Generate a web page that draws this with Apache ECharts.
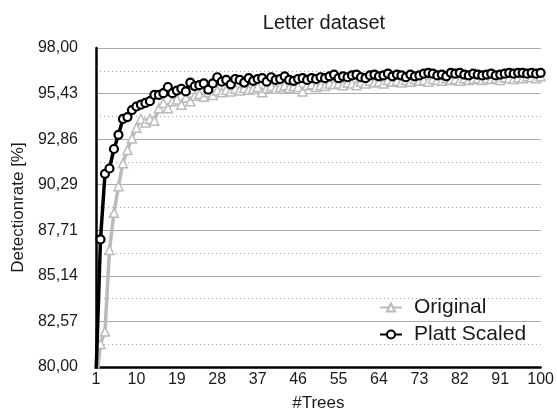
<!DOCTYPE html>
<html>
<head>
<meta charset="utf-8">
<script src="https://cdn.jsdelivr.net/npm/echarts@6/dist/echarts.min.js"></script>
<style>html,body{margin:0;padding:0;background:#fff}#c{width:557px;height:418px}</style>
</head>
<body>
<div id="c"></div>
<script>
var trees = [];
for (var i = 1; i <= 100; i++) trees.push(String(i));

var original = [
79.0, 81.3, 82.0, 86.6, 88.7, 90.2, 91.5, 92.25, 92.9, 93.5,
94.0, 93.8, 94.0, 93.9, 94.6, 94.9, 94.6, 95.0, 95.1, 94.8,
95.2, 95.0, 95.3, 95.4, 95.25, 95.5, 95.35, 95.6, 95.5, 95.65,
95.55, 95.7, 95.6, 95.75, 95.65, 95.7, 95.8, 95.5, 95.75, 95.85,
95.7, 95.8, 95.9, 95.75, 95.85, 95.8, 95.55, 95.9, 95.95, 95.8,
95.9, 95.85, 96.0, 95.95, 96.0, 95.9, 96.05, 96.0, 95.9, 96.1,
96.0, 96.15, 96.05, 96.1, 96.0, 96.2, 96.1, 96.15, 96.05, 96.2,
96.1, 96.25, 96.15, 96.2, 96.1, 96.25, 96.2, 96.15, 96.3, 96.2,
96.25, 96.15, 96.3, 96.2, 96.25, 96.3, 96.2, 96.3, 96.25, 96.3,
96.2, 96.35, 96.3, 96.25, 96.35, 96.3, 96.4, 96.35, 96.3, 96.4
];

var platt = [
79.5, 87.2, 90.9, 91.2, 92.3, 93.1, 94.0, 94.1, 94.5, 94.7,
94.8, 94.9, 95.0, 95.35, 95.35, 95.45, 95.8, 95.45, 95.6, 95.7,
95.55, 96.05, 95.85, 95.9, 96.0, 95.65, 96.0, 96.35, 96.1, 96.2,
95.95, 96.25, 96.2, 96.05, 96.3, 96.15, 96.25, 96.3, 96.1, 96.35,
96.2, 96.25, 96.4, 96.2, 96.15, 96.25, 96.3, 96.2, 96.3, 96.25,
96.35, 96.3, 96.4, 96.5, 96.3, 96.4, 96.35, 96.45, 96.5, 96.35,
96.3, 96.45, 96.5, 96.4, 96.45, 96.55, 96.4, 96.5, 96.45, 96.35,
96.5, 96.4, 96.45, 96.55, 96.6, 96.55, 96.45, 96.5, 96.4, 96.6,
96.55, 96.6, 96.5, 96.45, 96.55, 96.5, 96.45, 96.5, 96.55, 96.45,
96.5, 96.55, 96.6, 96.55, 96.6, 96.6, 96.55, 96.6, 96.55, 96.6
];

var yMin = 80, yMax = 98, yInterval = 18 / 7;
var FONT = 'Liberation Sans';

var chart = echarts.init(document.getElementById('c'), null, {renderer: 'canvas'});
chart.setOption({
  animation: false,
  backgroundColor: '#fff',
  textStyle: {fontFamily: FONT},
  title: {
    text: 'Letter dataset',
    left: 319, top: 8, textAlign: 'center',
    textStyle: {fontFamily: FONT, fontSize: 20, fontWeight: 'normal', color: '#1a1a1a'}
  },
  grid: {left: 96, right: 16, top: 48, bottom: 51, containLabel: false},
  legend: {
    orient: 'vertical', left: 374, top: 292,
    itemWidth: 22, itemHeight: 10, itemGap: 6,
    textStyle: {fontFamily: FONT, fontSize: 21, color: '#1a1a1a', padding: [0, 0, 0, 7]},
    data: ['Original', 'Platt Scaled']
  },
  xAxis: {
    type: 'category', data: trees, boundaryGap: false,
    name: '#Trees', nameLocation: 'middle', nameGap: 28,
    nameTextStyle: {fontFamily: FONT, fontSize: 17, color: '#1a1a1a'},
    axisLine: {lineStyle: {color: '#000', width: 2.5}},
    axisTick: {show: false},
    axisLabel: {interval: 8, fontFamily: FONT, fontSize: 16, color: '#1a1a1a', margin: 5},
    splitLine: {show: false}
  },
  yAxis: {
    type: 'value', min: yMin, max: yMax, interval: yInterval,
    name: 'Detectionrate [%]', nameLocation: 'middle', nameGap: 68,
    nameTextStyle: {fontFamily: FONT, fontSize: 17, color: '#1a1a1a'},
    axisLine: {show: true, lineStyle: {color: '#000', width: 2.5}},
    axisTick: {show: false},
    axisLabel: {
      fontFamily: FONT, fontSize: 16, color: '#1a1a1a', margin: 18,
      formatter: function (v) { return v.toFixed(2).replace('.', ','); }
    },
    splitLine: {show: true, showMaxLine: false, lineStyle: {color: '#aaaaaa', width: 1}},
    minorTick: {show: false, splitNumber: 2},
    minorSplitLine: {show: true, lineStyle: {color: '#aaaaaa', width: 1, type: [1, 3]}}
  },
  series: [
    {
      name: 'Original', type: 'line', data: original,
      symbol: 'triangle', symbolSize: 9, showAllSymbol: true,
      lineStyle: {color: '#bbbbbb', width: 3.5},
      itemStyle: {color: '#ffffff', borderColor: '#bbbbbb', borderWidth: 1.5},
      z: 2
    },
    {
      name: 'Platt Scaled', type: 'line', data: platt,
      symbol: 'circle', symbolSize: 8, showAllSymbol: true,
      lineStyle: {color: '#000000', width: 3.5},
      itemStyle: {color: '#ffffff', borderColor: '#000000', borderWidth: 2.2},
      z: 3
    }
  ]
});
</script>
</body>
</html>
